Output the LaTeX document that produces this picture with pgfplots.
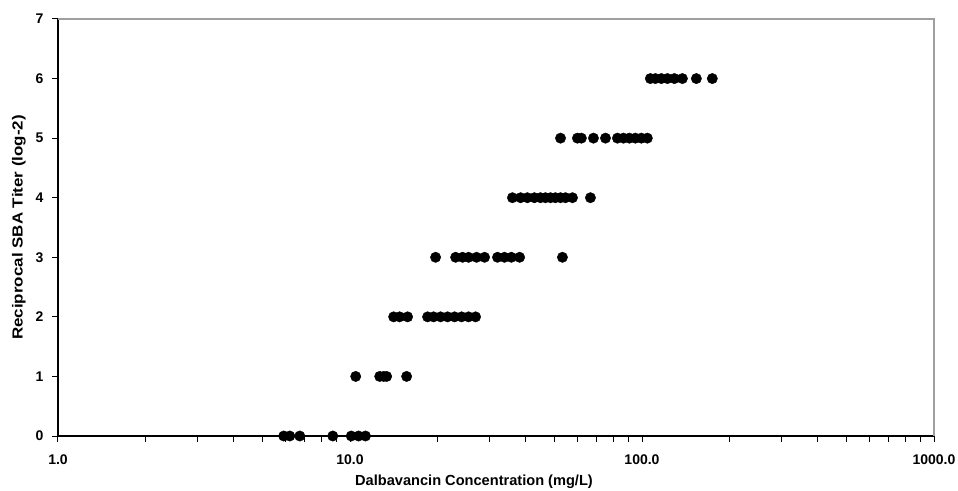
\documentclass[border=0pt]{standalone}
\usepackage{pgfplots}
\pgfplotsset{compat=1.18}
\usepackage{fontspec}
\setmainfont{Liberation Sans}
\usetikzlibrary{calc}
\begin{document}
\begin{tikzpicture}
\begin{axis}[
  scale only axis,
  width=876bp, height=417bp,
  xmode=log, log basis x=10,
  xmin=1, xmax=1000, ymin=0, ymax=7,
  xtick={1,10,100,1000},
  xticklabels={1.0,10.0,100.0,1000.0},
  minor xtick={2,3,4,5,6,7,8,9,20,30,40,50,60,70,80,90,200,300,400,500,600,700,800,900},
  ytick={0,1,2,3,4,5,6,7},
  axis x line*=bottom, axis y line*=left,
  axis line style={black, line width=1.4bp, -},
  tick align=outside,
  major tick length=6bp, minor tick length=6bp,
  tick style={black, line width=1bp},
  ticklabel style={font=\fontsize{14bp}{16bp}\selectfont\bfseries},
  xticklabel style={yshift=-9bp},
  yticklabel style={xshift=-5bp},
  /pgf/number format/assume math mode=true,
  xlabel={Dalbavancin Concentration (mg/L)},
  ylabel={\scalebox{1.16}[1]{Reciprocal SBA Titer (log-2)}},
  label style={font=\fontsize{14.6bp}{17bp}\selectfont\bfseries},
  xlabel style={at={(rel axis cs:0.5,0)}, anchor=center, yshift=-46bp, xshift=-22bp},
  ylabel style={at={(rel axis cs:0,0.5)}, anchor=center, yshift=39bp},
  clip=false,
]
\draw[gray!75, line width=1.2bp] (rel axis cs:0,1) -- (rel axis cs:1,1) -- (rel axis cs:1,0);
\coordinate (bl) at (rel axis cs:0,0);
\coordinate (tr) at (rel axis cs:1,1);
\addplot[only marks, mark=*, mark size=5.2bp, black] table {
x y
5.93 0
6.22 0
6.73 0
8.73 0
10.1 0
10.7 0
11.3 0
10.46 1
12.64 1
13.04 1
13.35 1
15.63 1
14.11 2
14.79 2
15.75 2
18.44 2
19.33 2
20.43 2
21.59 2
22.81 2
24.11 2
25.47 2
26.92 2
19.64 3
23.0 3
24.3 3
25.47 3
27.13 3
28.9 3
32.0 3
33.8 3
35.7 3
38.1 3
53.4 3
36.0 4
38.4 4
40.5 4
42.8 4
44.9 4
46.7 4
48.6 4
50.5 4
52.6 4
54.7 4
57.8 4
66.6 4
52.6 5
60.1 5
62.0 5
68.2 5
75.0 5
82.4 5
86.4 5
90.5 5
94.9 5
99.5 5
104.3 5
106.8 6
111.1 6
116.5 6
122.2 6
129.1 6
137.5 6
153.5 6
174.1 6
};
\end{axis}
\pgfresetboundingbox
\path[use as bounding box] ($(bl)+(-58bp,-55bp)$) rectangle ($(tr)+(24bp,19bp)$);
\end{tikzpicture}
\end{document}
